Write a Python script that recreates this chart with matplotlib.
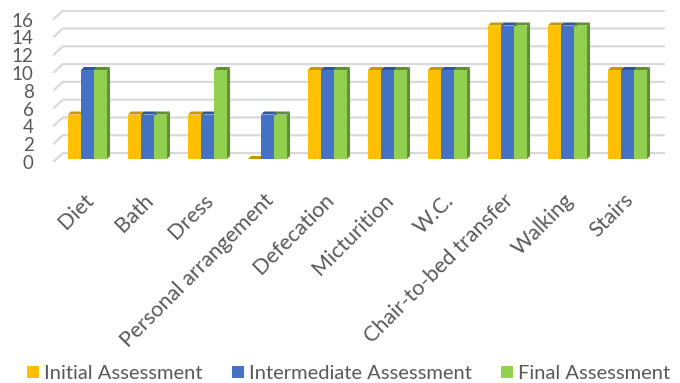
import matplotlib
matplotlib.use("Agg")
import matplotlib.pyplot as plt
from matplotlib.patches import Polygon, Patch
from matplotlib.transforms import ScaledTranslation
import numpy as np

categories = ["Diet", "Bath", "Dress", "Personal arrangement", "Defecation",
              "Micturition", "W.C.", "Chair-to-bed transfer", "Walking", "Stairs"]
initial = [5, 5, 5, 0, 10, 10, 10, 15, 15, 10]
intermediate = [10, 5, 5, 5, 10, 10, 10, 15, 15, 10]
final = [10, 5, 10, 5, 10, 10, 10, 15, 15, 10]
series_names = ["Initial Assessment", "Intermediate Assessment", "Final Assessment"]
yticks = [0, 2, 4, 6, 8, 10, 12, 14, 16]

front_cols = ["#FFC000", "#4472C4", "#92D050"]
dark_cols = ["#C89600", "#2F559A", "#5F8F30"]
TXT = "#595959"
FONT = "Lato"

plt.rcParams["font.family"] = [FONT, "DejaVu Sans"]

fig = plt.figure(figsize=(6.8, 3.83), dpi=100)
ax = fig.add_axes([53 / 680, (383 - 162.6) / 383, 612 / 680, 153.1 / 383])
ax.set_xlim(-0.575, 9.625)
ax.set_ylim(-0.4, 16.8)
for s in ax.spines.values():
    s.set_visible(False)

# pseudo-3D geometry (data units)
d_front = 0.34
d_back = 0.67
x_front, x_back, x_right = -0.575, -0.41, 9.625
ddx, ddy = 0.05, 0.34
w = 0.217

# back wall gridlines with left floor diagonal
for v in yticks:
    ax.plot([x_front, x_back, x_right], [v - d_front, v + d_back, v + d_back],
            color="#D9D9D9", lw=1.6, zorder=1, solid_capstyle="butt")

x = np.arange(len(categories))
series = [initial, intermediate, final]
z = 2
for gi in range(len(categories)):
    for si, vals in enumerate(series):
        h = vals[gi]
        x0 = x[gi] + (si - 1.5) * w
        x1 = x0 + w
        z += 1
        ax.add_patch(Polygon([[x1, 0], [x1 + ddx, ddy], [x1 + ddx, h + ddy], [x1, h]],
                             closed=True, fc=dark_cols[si], ec="none", zorder=z))
        ax.add_patch(Polygon([[x0, h], [x1, h], [x1 + ddx, h + ddy], [x0 + ddx, h + ddy]],
                             closed=True, fc=dark_cols[si], ec="none", zorder=z))
        ax.bar(x0, h, width=w, align="edge", color=front_cols[si], edgecolor="none", zorder=z)

ax.set_yticks([v - d_front for v in yticks])
ax.set_yticklabels([str(v) for v in yticks])
ax.tick_params(axis="y", length=0, pad=14, labelsize=13.5, labelcolor=TXT)

ax.set_xticks([])
off = ScaledTranslation(3 / 100, -38 / 100, fig.dpi_scale_trans)
for gi, name in enumerate(categories):
    ax.text(x[gi], 0, name, rotation=45, ha="right", va="center",
            rotation_mode="anchor", fontsize=15.5, color=TXT,
            transform=ax.transData + off, clip_on=False)

handles = [Patch(facecolor=c, edgecolor="none") for c in front_cols]
leg = fig.legend(handles, series_names, loc="lower center", bbox_to_anchor=(348.5 / 680, -0.045),
                 ncol=3, frameon=False, handlelength=0.6, handleheight=0.6,
                 handletextpad=0.25, columnspacing=1.45, fontsize=14.5)
for t in leg.get_texts():
    t.set_color(TXT)

fig.savefig("out.png", dpi=100)
